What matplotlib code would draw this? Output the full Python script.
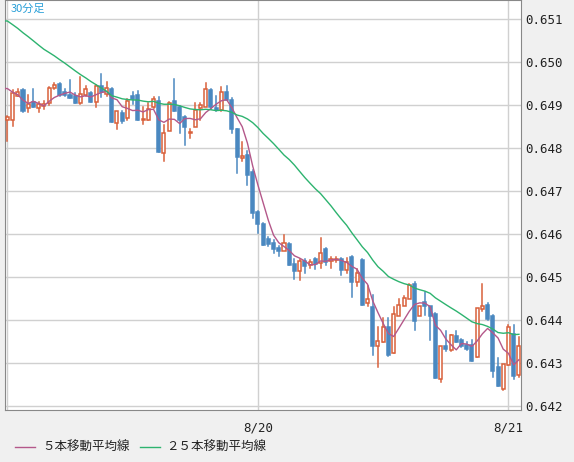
import numpy as np
import matplotlib
matplotlib.use('Agg')
import matplotlib.pyplot as plt
from matplotlib.patches import Rectangle
from matplotlib.lines import Line2D

plt.rcParams['font.family'] = ['Noto Sans CJK JP', 'DejaVu Sans']

# === ДАННЫЕ (30-минутные свечи) ===
opens = [.64865, .64866, .6492, .64935, .64892, .64908, .64892, .64897, .64904, .64939,
         .64949, .6493, .64923, .64922, .64904, .64924, .64927, .64908, .64944, .64926,
         .64938, .64859, .64881, .64869, .6492, .64923, .64865, .64865, .64896, .6491,
         .64789, .64839, .64909, .64895, .64872, .64834, .64849, .64892, .64896, .64934,
         .64894, .64888, .64931, .64912, .64843, .64777, .64784, .64745, .64651, .64623,
         .64588, .64579, .64567, .6456, .64577, .6453, .64515, .64538, .64528, .64542,
         .64532, .64565, .64538, .6454, .64543, .64517, .64547, .64488, .6454, .6444,
         .64431, .64339, .64348, .64383, .64323, .6441, .64433, .6445, .64484, .64409,
         .64442, .64433, .64415, .64264, .6434, .6433, .64364, .64354, .64341, .64343,
         .64314, .64426, .64434, .64409, .64291, .6424, .64295, .64367, .64273]
closes = [.64871, .64928, .6493, .64887, .64902, .64896, .64902, .64902, .6494, .64947,
          .64923, .64923, .64917, .64905, .64926, .64937, .64908, .64944, .6493, .64939,
          .64861, .64887, .64863, .6491, .64914, .64865, .64867, .6489, .64914, .64791,
          .64836, .64905, .64887, .64865, .64849, .64838, .64889, .64899, .64937, .64896,
          .64888, .64929, .64912, .64844, .6478, .64782, .64737, .64648, .64623, .64574,
          .64577, .64565, .6456, .64579, .64528, .64515, .64538, .64526, .64536, .6453,
          .64557, .64534, .64542, .64543, .64517, .64534, .64488, .64509, .64436, .6445,
          .6434, .64352, .64383, .64319, .64415, .64436, .64451, .64481, .64399, .64433,
          .64433, .64409, .64266, .6434, .64332, .64366, .6435, .6434, .64333, .64306,
          .64428, .64433, .64403, .64281, .64247, .64298, .64384, .6427, .6434]
highs = [.64875, .64934, .64936, .64938, .64923, .64938, .64908, .64909, .64942, .64952,
         .64952, .64937, .64957, .64927, .64965, .64945, .64931, .64947, .64971, .64953,
         .6494, .6487, .64886, .64914, .64929, .64933, .64896, .64904, .64918, .64918,
         .64853, .64907, .64961, .64897, .64875, .64845, .64905, .64905, .64951, .64938,
         .64922, .64941, .64944, .64916, .64845, .64814, .64793, .64749, .64653, .64625,
         .64592, .64585, .64573, .64598, .6458, .64541, .64541, .64541, .64539, .64544,
         .64591, .64567, .64546, .64546, .64545, .64545, .64548, .64519, .64541, .64479,
         .64458, .64383, .64406, .64406, .64431, .6445, .64457, .64485, .64488, .64418,
         .64465, .64412, .64417, .64275, .64374, .64366, .64374, .64357, .64349, .64353,
         .64416, .64484, .64439, .64412, .64312, .6424, .64388, .64388, .64361]
lows = [.64816, .64852, .6492, .64883, .64883, .64896, .64883, .64891, .64901, .64937,
        .64921, .64921, .64916, .64904, .64902, .64921, .64906, .64895, .64919, .64921,
        .64861, .64845, .64858, .64866, .64902, .64865, .64855, .64865, .64894, .64791,
        .6477, .64905, .64887, .64835, .64808, .64823, .64889, .64866, .64937, .64891,
        .64887, .64887, .64911, .64836, .64741, .64769, .64715, .64638, .64603, .64574,
        .64573, .64556, .64550, .64576, .64527, .64495, .64494, .64509, .64522, .64518,
        .64522, .64529, .64522, .64536, .64504, .64509, .64454, .64480, .64436, .64432,
        .64319, .64292, .64348, .64317, .64323, .64436, .64449, .64480, .64376, .64431,
        .64411, .64353, .64266, .64255, .64329, .64328, .64348, .64338, .64331, .64304,
        .64314, .64421, .64400, .64268, .64247, .64238, .64295, .64262, .64268]

# закрытия до видимого окна (для скользящих средних)
prior_closes = [.6514, .6515, .6514, .6513, .6514, .6515, .6514, .6513, .6514, .6514,
                .6513, .6514, .6513, .6514, .6513, .6512, .6513, .6512, .6513, .6512,
                .6497, .6496, .6495, .6494]

x_ticks_idx = [48, 96]
x_tick_labels = ['8/20', '8/21']
y_ticks = [0.642, 0.643, 0.644, 0.645, 0.646, 0.647, 0.648, 0.649, 0.650, 0.651]

UP = '#d9603b'
DOWN = '#4a88c0'
MA5_C = '#b4588a'
MA25_C = '#2db36f'

fig = plt.figure(figsize=(5.74, 4.62), dpi=100, facecolor='#f0f0f0')
ax = fig.add_axes([5 / 574, 52 / 462, 516 / 574, 410 / 462], facecolor='white')

n = len(closes)
x = np.arange(n)
w = 0.58
for i in range(n):
    o, c, h, l = opens[i], closes[i], highs[i], lows[i]
    up = c >= o
    col = UP if up else DOWN
    ax.plot([i, i], [l, h], color=col, linewidth=1.1, zorder=2)
    bottom = min(o, c)
    height = max(abs(c - o), 0.00002)
    ax.add_patch(Rectangle((i - w / 2, bottom), w, height,
                           facecolor='white' if up else DOWN,
                           edgecolor=col, linewidth=1.1, zorder=3))

all_c = np.array(prior_closes + closes)
k = len(prior_closes)
ma5 = np.array([all_c[j - 4:j + 1].mean() for j in range(k, k + n)])
ma25 = np.array([all_c[max(0, j - 24):j + 1].mean() for j in range(k, k + n)])
ax.plot(np.concatenate([[-0.6], x]), np.concatenate([[ma5[0]], ma5]), color=MA5_C, linewidth=1, zorder=4)
ax.plot(np.concatenate([[-0.6], x]), np.concatenate([[ma25[0]], ma25]), color=MA25_C, linewidth=1, zorder=4)

ax.set_xlim(-0.45, 98.4)
ax.set_ylim(0.64191, 0.65144)
for yy in y_ticks:
    ax.axhline(yy, color='#d0d0d0', linewidth=1.0, zorder=0)
for xi in [0] + x_ticks_idx:
    ax.axvline(xi, color='#d0d0d0', linewidth=1.0, zorder=0)

ax.yaxis.tick_right()
ax.set_yticks(y_ticks)
ax.set_yticklabels([f'{v:.3f}' for v in y_ticks], family='DejaVu Sans Mono', fontsize=9, color='#222222')
ax.set_xticks(x_ticks_idx)
ax.set_xticklabels(x_tick_labels, family='DejaVu Sans Mono', fontsize=9, color='#222222')
ax.tick_params(axis='both', length=0, pad=3)
ax.tick_params(axis='x', pad=8)
for s in ax.spines.values():
    s.set_color('#888888')

ax.text(0.01, 0.99, '30分足', transform=ax.transAxes, ha='left', va='top',
        fontsize=8, color='#2aa0d8')

# легенда внизу
fig.add_artist(Line2D([15 / 574, 35 / 574], [15 / 462, 15 / 462], color=MA5_C, linewidth=1))
fig.text(42 / 574, 15 / 462, '５本移動平均線', fontsize=9, va='center', color='#222222')
fig.add_artist(Line2D([140 / 574, 160 / 574], [15 / 462, 15 / 462], color=MA25_C, linewidth=1))
fig.text(166 / 574, 15 / 462, '２５本移動平均線', fontsize=9, va='center', color='#222222')

fig.savefig('out.png', dpi=100, facecolor=fig.get_facecolor())
